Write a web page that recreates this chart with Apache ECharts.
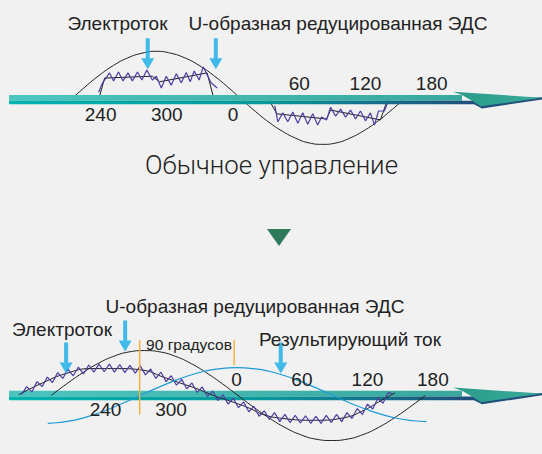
<!DOCTYPE html>
<html><head><meta charset="utf-8">
<script src="https://cdn.jsdelivr.net/npm/echarts@6/dist/echarts.min.js"></script>
<style>html,body{margin:0;padding:0;background:#f1f1f1;}#c{width:542px;height:454px;}</style>
</head><body><div id="c"></div><script>
// ---- tick labels (degrees) ----
const tickPos = [-120, -60, 0, 60, 120, 180];
const tickLabels = ['240', '300', '0', '60', '120', '180'];
const topBelow = [true, true, true, false, false, false];
const botBelow = [true, true, false, false, false, false];

// ---- top panel: conventional control ----
const topSineX = [-147.1,-134.2,-121.2,-108.3,-95.4,-82.4,-69.5,-56.6,-43.7,-30.7,-17.8,-4.8,8.1,20.3,32.5,44.7,56.8,69.0,81.2,93.4,105.6,117.8,129.9,142.1,154.3];
const topSineY = [0,0.27,0.52,0.73,0.89,0.99,1.03,0.99,0.89,0.73,0.52,0.27,0,-0.25,-0.48,-0.67,-0.82,-0.92,-0.95,-0.92,-0.82,-0.67,-0.48,-0.25,0];
const topEmfPosX = [-121.8,-116.4,-73.1,-66.8,-23.5,-17.1];
const topEmfPosY = [0,0.46,0.50,0.38,0.57,0];
const topEmfNegX = [32.5,39.7,84.8,88.4,133.6,139.9];
const topEmfNegY = [0,-0.30,-0.41,-0.22,-0.43,0];
const topCurPosX = [-121.8,-118.2,-111.9,-108.3,-103.8,-99.7,-95.2,-91.2,-86.6,-82.6,-78.1,-73.1,-69.5,-65.0,-60.5,-56.0,-51.4,-46.9,-42.4,-38.8,-35.2,-30.7,-27.1,-19.9,-14.4];
const topCurPosY = [0.16,0.36,0.57,0.40,0.59,0.40,0.57,0.40,0.59,0.42,0.63,0.42,0.50,0.25,0.50,0.31,0.55,0.36,0.58,0.38,0.61,0.42,0.70,0.36,0.25];
const topCurNegX = [37.9,40.6,45.1,49.6,54.2,58.7,63.2,67.7,72.2,76.7,80.3,84.8,88.4,93.0,97.5,102.0,106.5,111.0,115.5,120.0,124.5,128.2,131.8,137.2,139.9];
const topCurNegY = [-0.13,-0.47,-0.28,-0.47,-0.26,-0.50,-0.28,-0.52,-0.30,-0.54,-0.37,-0.43,-0.16,-0.35,-0.20,-0.37,-0.22,-0.41,-0.24,-0.45,-0.28,-0.54,-0.24,-0.24,-0.07];
const topArrowX = [-77.3, -15.6];
const topArrowY = [0.65, 0.65];

// ---- bottom panel ----
const botEmfX = [-169.9,-155.6,-141.3,-127.1,-112.8,-98.5,-84.2,-69.9,-55.7,-41.4,-27.1,-12.8,1.5,15.8,30.1,44.4,58.7,72.9,87.2,101.5,115.8,130.1,144.4,158.7,173.0];
const botEmfY = [0,0.26,0.5,0.71,0.87,0.97,1,0.97,0.87,0.71,0.5,0.26,0,-0.26,-0.5,-0.71,-0.87,-0.97,-1,-0.97,-0.87,-0.71,-0.5,-0.26,0];
const botCurX = [-199.5,-177.8,-156.1,-132.7,-108.3,-87.5,-65.8,-54.2,-36.1,-20.8,-2.7,11.7,24.4,42.4,72.2,99.3,117.3,132.7,145.4];
const botCurY = [0.02,0.28,0.49,0.60,0.60,0.57,0.40,0.30,0.15,0.00,-0.15,-0.28,-0.42,-0.51,-0.55,-0.49,-0.32,-0.11,0.06];
const botZigX = [-197.0,-192.3,-187.5,-182.8,-178.0,-173.3,-168.6,-163.8,-159.1,-154.4,
  -149.6,-144.9,-140.2,-135.4,-130.7,-126.0,-121.2,-116.5,-111.8,-107.0,
  -102.3,-97.6,-92.8,-88.1,-83.4,-78.6,-73.9,-69.2,-64.4,-59.7,
  -55.0,-50.2,-45.5,-40.8,-36.0,-31.3,-26.6,-21.8,-17.1,-12.4,
  -7.6,-2.9,1.8,6.5,11.3,16.0,20.7,25.5,30.2,34.9,
  39.7,44.4,49.1,53.9,58.6,63.3,68.1,72.8,77.5,82.3,
  87.0,91.7,96.5,101.2,105.9,110.7,115.4,120.1,124.9,129.6,
  134.3,139.1,143.8];
const botZigY = [0.02,0.20,0.08,0.31,0.20,0.41,0.29,0.51,0.38,0.59,
  0.44,0.63,0.48,0.68,0.52,0.70,0.53,0.70,0.52,0.69,
  0.51,0.67,0.50,0.66,0.46,0.59,0.38,0.52,0.31,0.44,
  0.23,0.36,0.15,0.28,0.07,0.19,-0.02,0.10,-0.11,0.02,
  -0.19,-0.06,-0.27,-0.14,-0.36,-0.24,-0.46,-0.34,-0.53,-0.38,
  -0.58,-0.42,-0.60,-0.44,-0.61,-0.45,-0.62,-0.46,-0.62,-0.44,
  -0.60,-0.42,-0.58,-0.38,-0.51,-0.29,-0.42,-0.19,-0.30,-0.06,
  -0.17,0.07,0.03];
const botResX = [-172.9,-162.0,-147.3,-132.5,-117.8,-103.0,-88.3,-73.6,-58.8,-44.1,-29.3,-14.6,0.2,15.0,29.7,44.5,59.2,74.0,88.7,103.4,118.2,132.9,147.7,162.4,174.2];
const botResY = [-0.62,-0.60,-0.54,-0.44,-0.31,-0.16,0,0.16,0.31,0.44,0.54,0.60,0.62,0.60,0.54,0.44,0.31,0.16,0,-0.16,-0.30,-0.42,-0.51,-0.56,-0.58];
const orangeX = [-88.7, -2.1];
const orangeTop = [1.23, 1.23];
const orangeBottom = [-0.42, 0.68];
const botArrowX = [-156.1, -102.0, 40.6];
const botArrowY = [0.49, 0.98, 0.49];

// ---- texts ----
const txtCurrent = 'Электроток';
const txtEmf = 'U-образная редуцированная ЭДС';
const txtNormal = 'Обычное управление';
const txtDeg = '90 градусов';
const txtResult = 'Результирующий ток';

const chart = echarts.init(document.getElementById('c'), null, {renderer: 'svg'});
const FONT = '"Liberation Sans", Arial, sans-serif';
const TXT = '#222222';
const BLACK = '#1e1e1e', PURPLE = '#4e3fa3', BLUE = '#1d9ad8', ARROW = '#14ace6', ORANGE = '#f6b042';
const arrowPath = 'path://M4.5,0H8.5V20H13L6.5,31L0,20H4.5Z';
const pairs = (xs, ys) => xs.map((x, i) => [x, ys[i]]);
function lineS(g, data, color, width, smooth) {
  return {type: 'line', xAxisIndex: g, yAxisIndex: g, data, smooth: !!smooth, showSymbol: false, symbol: 'none',
    lineStyle: {color, width}, silent: true, animation: false, z: 2, clip: false};
}
function arrowS(g, xs, ys) {
  return {type: 'scatter', xAxisIndex: g, yAxisIndex: g, data: pairs(xs, ys), symbol: arrowPath,
    symbolSize: [13, 31], symbolOffset: [0, -15.5], symbolKeepAspect: false,
    itemStyle: {color: ARROW}, silent: true, animation: false, z: 5};
}
function tickS(g, below, dyAbove, dyBelow) {
  return {type: 'scatter', xAxisIndex: g, yAxisIndex: g, symbol: 'circle', symbolSize: 0,
    itemStyle: {color: 'rgba(0,0,0,0)'},
    data: tickPos.map((x, i) => ({value: [x, 0], label: {offset: [0, below[i] ? dyBelow : dyAbove]}})),
    label: {show: true, position: 'inside', formatter: p => tickLabels[p.dataIndex],
      fontFamily: FONT, fontSize: 19, color: TXT, opacity: 1},
    silent: true, animation: false, z: 20};
}
const series = [
  lineS(0, pairs(topSineX, topSineY), BLACK, 1, true),
  lineS(0, pairs(topEmfPosX, topEmfPosY), BLACK, 1, false),
  lineS(0, pairs(topEmfNegX, topEmfNegY), BLACK, 1, false),
  lineS(0, pairs(topCurPosX, topCurPosY), PURPLE, 1.2, false),
  lineS(0, pairs(topCurNegX, topCurNegY), PURPLE, 1.2, false),
  arrowS(0, topArrowX, topArrowY),
  tickS(0, topBelow, -16.7, 14.3),
  lineS(1, pairs(botEmfX, botEmfY), BLACK, 1, true),
  lineS(1, pairs(botCurX, botCurY), BLACK, 1, true),
  lineS(1, pairs(botZigX, botZigY), PURPLE, 1.2, false),
  lineS(1, pairs(botResX, botResY), BLUE, 1.2, true),
  arrowS(1, botArrowX, botArrowY),
  tickS(1, botBelow, -16, 14)
];
orangeX.forEach((x, i) => series.push(lineS(1, [[x, orangeTop[i]], [x, orangeBottom[i]]], ORANGE, 1.5, false)));

chart.setOption({
  backgroundColor: '#f1f1f1',
  animation: false,
  grid: [
    {left: 1.3, width: 542.9, top: 38.6, height: 122.2},
    {left: 7.3, width: 542.9, top: 337.1, height: 137.8}
  ],
  xAxis: [
    {gridIndex: 0, type: 'value', min: -210, max: 280, show: false},
    {gridIndex: 1, type: 'value', min: -210, max: 280, show: false}
  ],
  yAxis: [
    {gridIndex: 0, type: 'value', min: -1.3, max: 1.3, show: false},
    {gridIndex: 1, type: 'value', min: -1.3, max: 1.3, show: false}
  ],
  series
});

const LG = echarts.graphic.LinearGradient;
function band(yc, z) {
  return [
    {type: 'rect', z, silent: true, shape: {x: 9, y: yc - 4.8, width: 453, height: 5.8},
      style: {fill: new LG(0, 0, 1, 0, [{offset: 0, color: '#4cc4c0'}, {offset: 1, color: '#38a89b'}])}},
    {type: 'rect', z, silent: true, shape: {x: 9, y: yc + 1, width: 465, height: 3.6},
      style: {fill: new LG(0, 0, 1, 0, [{offset: 0, color: '#00b3ac'}, {offset: 0.55, color: '#08989a'}, {offset: 1, color: '#1f4d7a'}])}},
    {type: 'polygon', z, silent: true, shape: {points: [[472, yc + 1], [542, yc - 2.5], [542, yc - 0.3], [482, yc + 8.8], [474, yc + 4.6]]},
      style: {fill: '#1f4f7b'}},
    {type: 'polygon', z, silent: true, shape: {points: [[453, yc - 8], [542, yc - 2], [481, yc + 6.6], [472, yc + 1], [462, yc - 4.8]]},
      style: {fill: new LG(0, 0, 1, 0, [{offset: 0, color: '#2a9a88'}, {offset: 1, color: '#3aab9b'}])}}
  ];
}
function text(str, x, y, size, family, weight) {
  return {type: 'text', x, y, z: 30, silent: true,
    style: {text: str, fontFamily: family || FONT, fontSize: size, fontWeight: weight || 'normal', fill: TXT, align: 'center', verticalAlign: 'middle'}};
}
const yc0 = chart.convertToPixel({gridIndex: 0}, [0, 0])[1];
const yc1 = chart.convertToPixel({gridIndex: 1}, [0, 0])[1];
chart.setOption({
  graphic: [
    ...band(yc0, 10),
    ...band(yc1, 0),
    {type: 'polygon', z: 5, silent: true, shape: {points: [[267, 229], [291, 229], [279, 246]]}, style: {fill: '#2e7b5b'}},
    text(txtCurrent, 117.5, 23.5, 19),
    text(txtEmf, 338, 23.5, 19),
    text(txtNormal, 271.5, 165, 25.8, 'Roboto, "Liberation Sans", sans-serif', 300),
    text(txtEmf, 255, 306, 19),
    text(txtCurrent, 62, 329.4, 19),
    text(txtDeg, 189, 344.3, 15.5),
    text(txtResult, 350, 339.5, 19)
  ]
});
</script></body></html>
